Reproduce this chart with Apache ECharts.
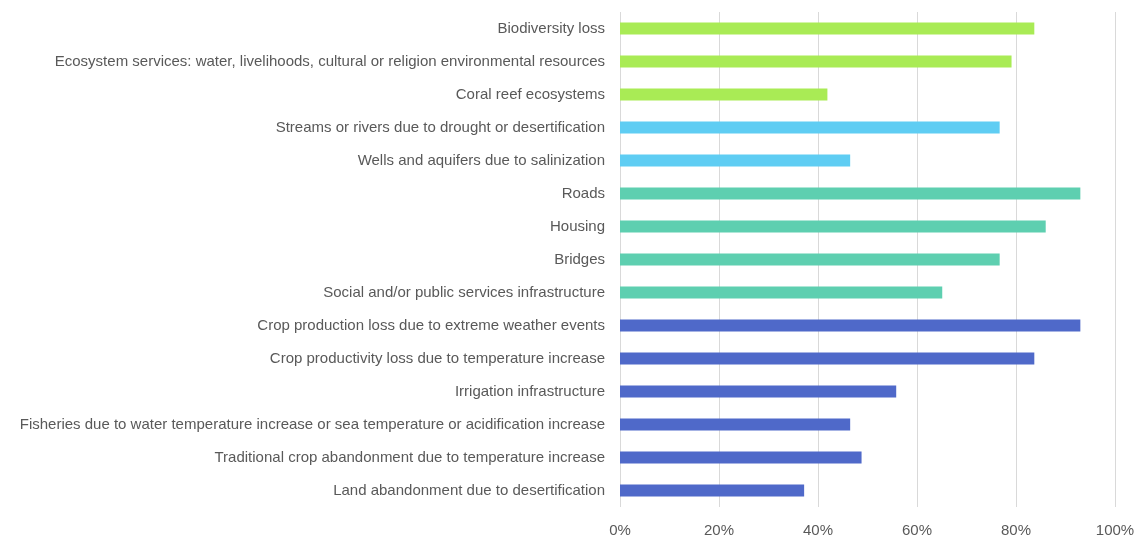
<!DOCTYPE html>
<html>
<head>
<meta charset="utf-8">
<script src="https://cdn.jsdelivr.net/npm/echarts@6/dist/echarts.min.js"></script>
<style>
  html, body { margin: 0; padding: 0; background: #fff; }
  #chart { width: 1138px; height: 538px; }
</style>
</head>
<body>
<div id="chart"></div>
<script>
// categories, top to bottom
var categories = [
    'Biodiversity loss',
    'Ecosystem services: water, livelihoods, cultural or religion environmental resources',
    'Coral reef ecosystems',
    'Streams or rivers due to drought or desertification',
    'Wells and aquifers due to salinization',
    'Roads',
    'Housing',
    'Bridges',
    'Social and/or public services infrastructure',
    'Crop production loss due to extreme weather events',
    'Crop productivity loss due to temperature increase',
    'Irrigation infrastructure',
    'Fisheries due to water temperature increase or sea temperature or acidification increase',
    'Traditional crop abandonment due to temperature increase',
    'Land abandonment due to desertification'
];
// share of respondents (%)
var values = [83.7, 79.1, 41.9, 76.7, 46.5, 93.0, 86.0, 76.7, 65.1, 93.0, 83.7, 55.8, 46.5, 48.8, 37.2];
// group of each category
var groups = ['eco', 'eco', 'eco', 'water', 'water', 'infra', 'infra', 'infra', 'infra',
              'agri', 'agri', 'agri', 'agri', 'agri', 'agri'];
var xTicks = [0, 20, 40, 60, 80, 100];

var groupColors = {
    eco: '#a9eb55',
    water: '#5fcdf3',
    infra: '#5ecfb0',
    agri: '#4f69c9'
};

var chart = echarts.init(document.getElementById('chart'));

var option = {
    animation: false,
    textStyle: { fontFamily: 'Liberation Sans Narrow, Liberation Sans, sans-serif' },
    grid: { left: 620, right: 23, top: 12, bottom: 31, containLabel: false },
    xAxis: {
        type: 'value',
        min: xTicks[0],
        max: xTicks[xTicks.length - 1],
        interval: 20,
        axisLine: { show: false },
        axisTick: { show: false },
        axisLabel: {
            color: '#595959',
            fontSize: 15,
            margin: 16,
            formatter: '{value}%'
        },
        splitLine: { show: true, lineStyle: { color: '#d9d9d9', width: 1 } }
    },
    yAxis: {
        type: 'category',
        data: categories,
        inverse: true,
        axisLine: { show: false },
        axisTick: { show: false },
        axisLabel: { color: '#595959', fontSize: 15, margin: 15 }
    },
    series: [{
        type: 'bar',
        barWidth: 12,
        data: values.map(function (v, i) {
            return { value: v, itemStyle: { color: groupColors[groups[i]] } };
        })
    }]
};

chart.setOption(option);
</script>
</body>
</html>
